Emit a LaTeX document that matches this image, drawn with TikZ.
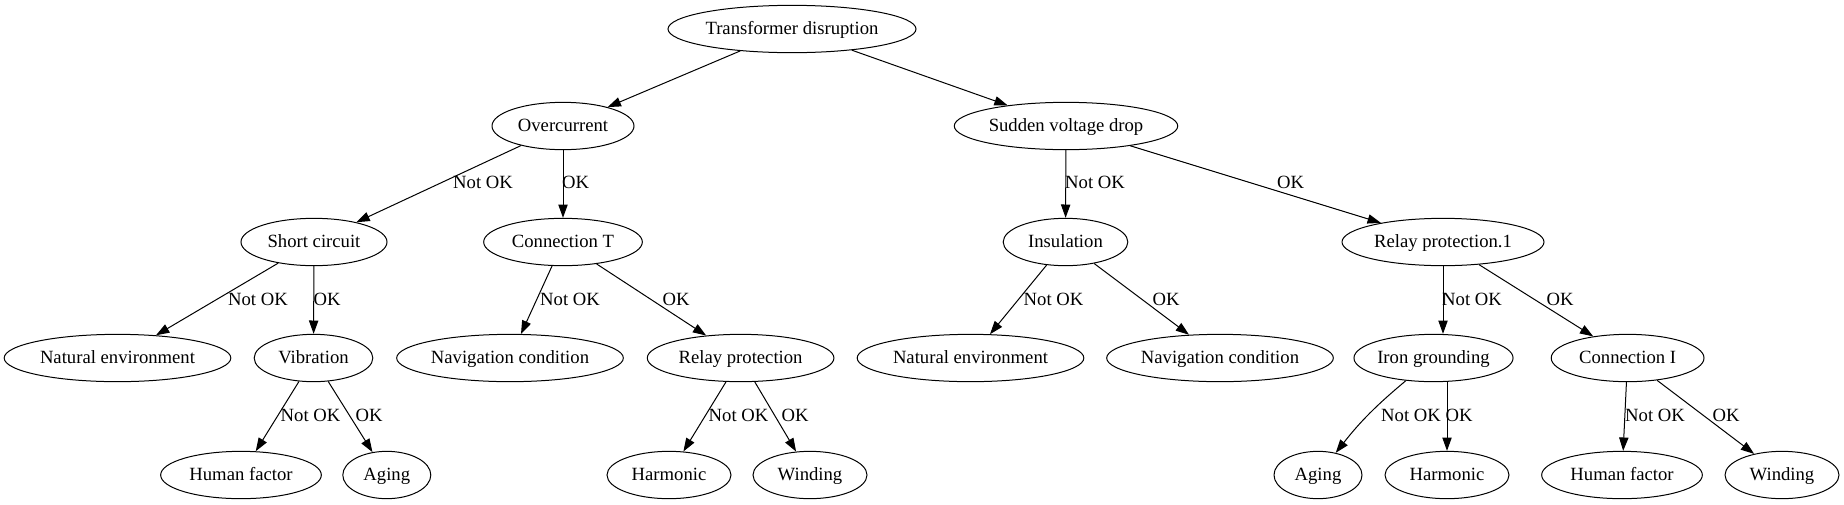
\documentclass[tikz,border=0pt]{standalone}
\usepackage{fontspec}
\setmainfont{Liberation Serif}
\usetikzlibrary{shapes.geometric,arrows.meta}
\begin{document}
\begin{tikzpicture}[x=0.75pt,y=-0.75pt,
  nd/.style={draw, ellipse, inner sep=0pt, minimum height=35.5pt, line width=0.75pt, text height=11.6pt, text depth=3pt, font=\fontsize{14pt}{16pt}\selectfont},
  ar/.style={-{Triangle[length=10pt,width=7pt]}, line width=0.75pt},
  lbl/.style={font=\fontsize{14pt}{16pt}\selectfont, inner sep=0pt, text height=11.6pt, text depth=3pt}]
\fill[white] (0,0) rectangle (1844,504);
\useasboundingbox (0,0) rectangle (1844,504);
% rank 1
\node[nd, minimum width=186pt] (td) at (792,29) {Transformer disruption};
% rank 2
\node[nd, minimum width=106.5pt] (oc) at (563,126) {Overcurrent};
\node[nd, minimum width=167.6pt] (svd) at (1066,126) {Sudden voltage drop};
% rank 3
\node[nd, minimum width=109.5pt] (sc) at (314,242) {Short circuit};
\node[nd, minimum width=119pt] (ct) at (563,242) {Connection T};
\node[nd, minimum width=93.5pt] (ins) at (1065.5,242) {Insulation};
\node[nd, minimum width=151.5pt] (rp1) at (1443,242) {Relay protection.1};
% rank 4
\node[nd, minimum width=170pt] (ne1) at (117.5,358) {Natural environment};
\node[nd, minimum width=89pt] (vib) at (313.5,358) {Vibration};
\node[nd, minimum width=170pt] (nc1) at (510,358) {Navigation condition};
\node[nd, minimum width=140pt] (rp) at (740.6,358) {Relay protection};
\node[nd, minimum width=170pt] (ne2) at (970.5,358) {Natural environment};
\node[nd, minimum width=170pt] (nc2) at (1220,358) {Navigation condition};
\node[nd, minimum width=113pt] (ig) at (1433.5,358) {Iron grounding};
\node[nd, minimum width=114.6pt] (ci) at (1627.6,358) {Connection I};
% rank 5
\node[nd, minimum width=120.5pt] (hf1) at (241,475) {Human factor};
\node[nd, minimum width=66pt] (ag1) at (386.8,475) {Aging};
\node[nd, minimum width=93pt] (har1) at (669,475) {Harmonic};
\node[nd, minimum width=85.5pt] (win1) at (810,475) {Winding};
\node[nd, minimum width=66pt] (ag2) at (1318,475) {Aging};
\node[nd, minimum width=93pt] (har2) at (1447,475) {Harmonic};
\node[nd, minimum width=120.5pt] (hf2) at (1622,475) {Human factor};
\node[nd, minimum width=85.5pt] (win2) at (1782,475) {Winding};
% edges
\draw[ar] (td) -- (oc);
\draw[ar] (td) -- (svd);
\draw[ar] (oc) -- (sc) node[lbl] at (483,183) {Not OK};
\draw[ar] (oc) -- (ct) node[lbl] at (575.5,183) {OK};
\draw[ar] (svd) -- (ins) node[lbl] at (1095,183) {Not OK};
\draw[ar] (svd) -- (rp1) node[lbl] at (1290.5,183) {OK};
\draw[ar] (sc) -- (ne1) node[lbl] at (258,300) {Not OK};
\draw[ar] (sc) -- (vib) node[lbl] at (327,300) {OK};
\draw[ar] (ct) -- (nc1) node[lbl] at (570,300) {Not OK};
\draw[ar] (ct) -- (rp) node[lbl] at (676,300) {OK};
\draw[ar] (ins) -- (ne2) node[lbl] at (1053.5,300) {Not OK};
\draw[ar] (ins) -- (nc2) node[lbl] at (1166,300) {OK};
\draw[ar] (rp1) -- (rp1 |- ig.north) node[lbl] at (1472,300) {Not OK};
\draw[ar] (rp1) -- (ci) node[lbl] at (1560,300) {OK};
\draw[ar] (vib) -- (hf1) node[lbl] at (310.5,416) {Not OK};
\draw[ar] (vib) -- (ag1) node[lbl] at (369,416) {OK};
\draw[ar] (rp) -- (har1) node[lbl] at (738.5,416) {Not OK};
\draw[ar] (rp) -- (win1) node[lbl] at (795,416) {OK};
\draw[ar] (ig) to[bend right=6] (ag2);
\node[lbl] (lig) at (1411,416) {Not OK};
\draw[ar] (ig.south -| har2) -- (har2) node[lbl] at (1459,416) {OK};
\draw[ar] (ci) -- (hf2) node[lbl] at (1655,416) {Not OK};
\draw[ar] (ci) -- (win2) node[lbl] at (1726,416) {OK};
\end{tikzpicture}
\end{document}
